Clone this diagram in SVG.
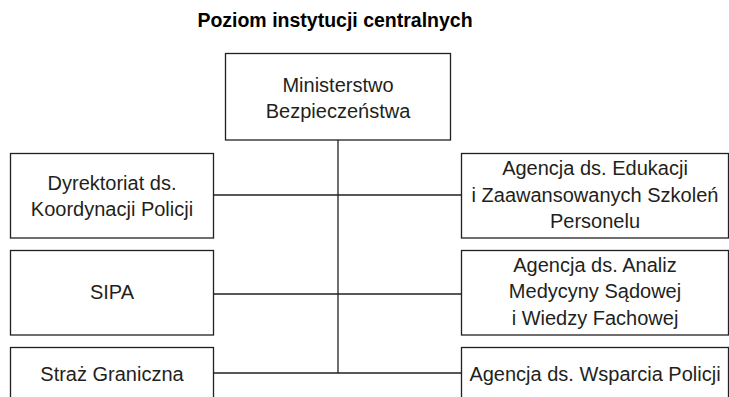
<svg xmlns="http://www.w3.org/2000/svg" width="729" height="397" viewBox="0 0 729 397">
<style>
.box{fill:#fff;stroke:#231f20;stroke-width:1.3}
.lbl{font-family:"Liberation Sans",Arial,sans-serif;font-size:20px;fill:#231f20;text-anchor:middle}
.title{font-family:"Liberation Sans",Arial,sans-serif;font-size:19.5px;font-weight:bold;fill:#000;text-anchor:middle}
.conn{stroke:#231f20;stroke-width:1.3;fill:none}
</style>
<rect width="729" height="397" fill="#fff"/>
<text class="title" x="335" y="27">Poziom instytucji centralnych</text>
<g id="connectors">
<line class="conn" x1="338" y1="140" x2="338" y2="373"/>
<line class="conn" x1="214" y1="195" x2="461" y2="195"/>
<line class="conn" x1="214" y1="294" x2="461" y2="294"/>
<line class="conn" x1="214" y1="373" x2="461" y2="373"/>
</g>
<g id="ministerstwo">
<rect class="box" x="225.5" y="53.5" width="225" height="86.5"/>
<text class="lbl" x="338" y="91.5">Ministerstwo</text>
<text class="lbl" x="338" y="117.5">Bezpieczeństwa</text>
</g>
<g id="dyrektoriat">
<rect class="box" x="10.5" y="153.5" width="203" height="84.5"/>
<text class="lbl" x="112" y="190">Dyrektoriat ds.</text>
<text class="lbl" x="112" y="216">Koordynacji Policji</text>
</g>
<g id="sipa">
<rect class="box" x="10.5" y="250.5" width="203" height="84.5"/>
<text class="lbl" x="112" y="299">SIPA</text>
</g>
<g id="straz">
<rect class="box" x="10.5" y="347.5" width="203" height="84.5"/>
<text class="lbl" x="112" y="381">Straż Graniczna</text>
</g>
<g id="agencja-edukacji">
<rect class="box" x="461.5" y="153.5" width="267" height="84.5"/>
<text class="lbl" x="595" y="175">Agencja ds. Edukacji</text>
<text class="lbl" x="595" y="201.5">i Zaawansowanych Szkoleń</text>
<text class="lbl" x="595" y="228">Personelu</text>
</g>
<g id="agencja-analiz">
<rect class="box" x="461.5" y="250.5" width="267" height="84.5"/>
<text class="lbl" x="595" y="271.5">Agencja ds. Analiz</text>
<text class="lbl" x="595" y="298">Medycyny Sądowej</text>
<text class="lbl" x="595" y="324.5">i Wiedzy Fachowej</text>
</g>
<g id="agencja-wsparcia">
<rect class="box" x="461.5" y="347.5" width="267" height="84.5"/>
<text class="lbl" x="595" y="381">Agencja ds. Wsparcia Policji</text>
</g>
</svg>
